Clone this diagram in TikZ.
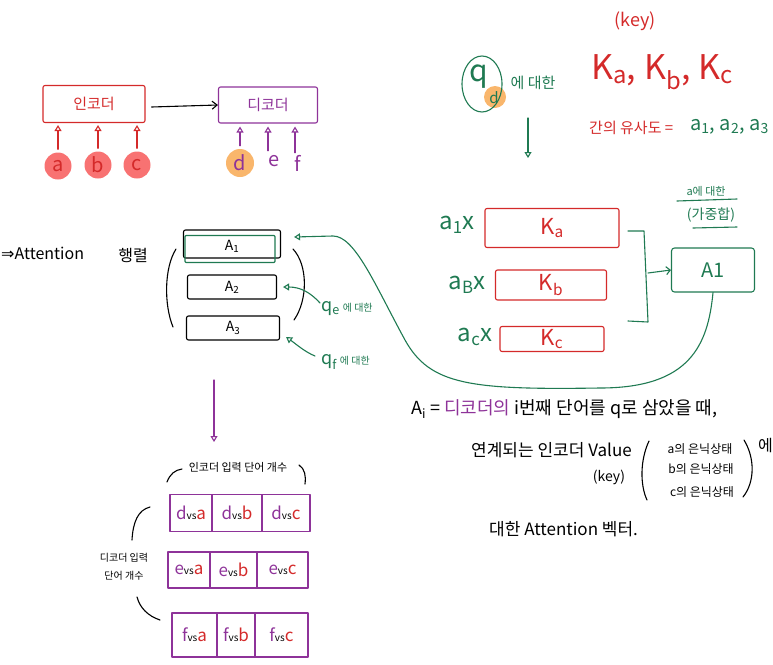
\documentclass[tikz,border=0pt]{standalone}
\usepackage{fontspec}
\setmainfont{Noto Sans CJK KR}
\newfontfamily\dejavu{DejaVu Sans}
\usetikzlibrary{arrows.meta,shapes.geometric}
\definecolor{hred}{HTML}{D42A2A}
\definecolor{hpurple}{HTML}{8E3399}
\definecolor{hgreen}{HTML}{1F7A52}
\definecolor{horange}{HTML}{F9B66C}
\definecolor{hredfill}{HTML}{F87272}
\newcommand{\fs}[1]{\fontsize{#1}{#1}\selectfont}
\begin{document}
\begin{tikzpicture}[x=1pt,y=-1pt,
  hand/.style={line width=1.1pt,line cap=round,line join=round},
  opentip/.style={-{Triangle[open,length=6pt,width=7pt]}},
  rbox/.style={hand,draw=hred,rounded corners=2pt,inner sep=0pt},
  pbox/.style={hand,draw=hpurple,rounded corners=2pt,inner sep=0pt},
  gbox/.style={hand,draw=hgreen,rounded corners=3pt,inner sep=0pt},
  kbox/.style={hand,draw=black,rounded corners=2pt,inner sep=0pt},
  rarr/.style={hand,draw=hred,opentip},
  parr/.style={hand,draw=hpurple,opentip},
  garr/.style={hand,draw=hgreen,opentip},
  cell/.style={hand,draw=hpurple,inner sep=0pt},
  lbl/.style={inner sep=1pt}]
\path[use as bounding box] (0,0) rectangle (773,664);

% ---------- encoder / decoder ----------
\node[rbox,text=hred,minimum width=102pt,minimum height=37pt] (enc) at (94,104) {\fs{15}인코더};
\node[pbox,text=hpurple,minimum width=99pt,minimum height=36pt] (dec) at (268,105) {\fs{15}디코더};
\draw[hand,-{Straight Barb[length=5pt,width=8pt]}] ([xshift=6pt,yshift=-3pt]enc.east) -- (dec.west);

\node[circle,fill=hredfill,text=hred,minimum size=27pt,inner sep=0pt] (ca) at (58,166) {\fs{20}a};
\node[circle,fill=hredfill,text=hred,minimum size=27pt,inner sep=0pt] (cb) at (98,165) {\fs{20}b};
\node[circle,fill=hredfill,text=hred,minimum size=27pt,inner sep=0pt] (cc) at (137,165) {\fs{20}c};
\foreach \n in {ca,cb,cc}{\draw[rarr,shorten <=3pt,shorten >=2pt] (\n.north) -- (\n.north |- enc.south);}

\node[circle,fill=horange,text=hpurple,minimum size=28pt,inner sep=0pt] (cd) at (240,163) {\fs{20}d};
\node[text=hpurple,inner sep=0pt,minimum size=20pt] (ce) at (274,161) {\fs{20}e};
\node[text=hpurple,inner sep=0pt,minimum size=20pt] (cf) at (298,163) {\fs{20}f};
\draw[parr,shorten <=3pt,shorten >=3pt] (cd.north) -- (cd.north |- dec.south);
\draw[parr,shorten <=0pt,shorten >=3pt] ([xshift=-6pt]ce.north) -- ([xshift=-6pt]ce.north |- dec.south);
\draw[parr,shorten <=0pt,shorten >=3pt] ([xshift=-3pt]cf.north) -- ([xshift=-3pt]cf.north |- dec.south);

% ---------- attention matrix ----------
\node[lbl,anchor=west] (att) at (0,253) {\fs{16}{\dejavu ⇒}Attention};
\node[lbl] (hr) at (133,255) {\fs{16}행렬};
\node[kbox,minimum width=97pt,minimum height=28pt] (A1) at (232,244) {};
\node[gbox,rounded corners=1pt,minimum width=90pt,minimum height=27pt] (A1g) at (230,249) {};
\node at (232,246) {\fs{14}A\textsubscript{1}};
\node[kbox,minimum width=89pt,minimum height=24pt] (A2) at (232,287) {\fs{14}A\textsubscript{2}};
\node[kbox,minimum width=93pt,minimum height=24pt] (A3) at (233,328) {\fs{14}A\textsubscript{3}};
\draw[hand] (176,249) .. controls (164,268) and (164,305) .. (173,327);
\draw[hand] (293,249) .. controls (308,265) and (308,300) .. (294,320);

\node[lbl,text=hgreen,anchor=west] (qe) at (320,309) {\fs{18}q\textsubscript{e}\,\fs{10}에 대한};
\node[lbl,text=hgreen,anchor=west] (qf) at (320,362) {\fs{18}q\textsubscript{f}\,\fs{10}에 대한};
\draw[garr] ([yshift=6pt]qe.west) .. controls (310,292) and (300,287) .. ([xshift=6pt]A2.east);
\draw[garr] ([xshift=-5pt,yshift=6pt]qf.west) .. controls (305,352) and (296,344) .. ([xshift=6pt,yshift=-9pt]A3.east);

% ---------- right top ----------
\node[lbl,text=hred] (key) at (635,21) {\fs{18}(key)};
\fill[horange] (495,97) circle (11);
\node[ellipse,draw=hgreen,hand,minimum width=40pt,minimum height=56pt] (qd) at (482,84) {};
\node[text=hgreen,inner sep=0pt] (qq) at (479,77) {\fs{30}q};
\node[text=hgreen,inner sep=0pt] (qsub) at (494,98) {\fs{15}d};
\node[lbl,text=hgreen] (qdl) at (533,83) {\fs{15}에 대한};
\node[lbl,text=hred] (Ks) at (662,72) {\fs{34}K\textsubscript{a}, K\textsubscript{b}, K\textsubscript{c}};
\node[lbl,text=hred,anchor=west] (sim) at (588,128) {\fs{15}간의 유사도 =};
\node[lbl,text=hgreen,anchor=west] (aa) at (689,127) {\fs{20}a\textsubscript{1}, a\textsubscript{2}, a\textsubscript{3}};
\coordinate (dn1) at (528,118);
\coordinate (dn2) at (528,158);
\draw[garr] (dn1) -- (dn2);

% ---------- weighted keys ----------
\node[rbox,text=hred,minimum width=134pt,minimum height=39pt] (Ka) at (552,228) {\fs{22}K\textsubscript{a}};
\node[rbox,text=hred,minimum width=111pt,minimum height=30pt] (Kb) at (551,285) {\fs{22}K\textsubscript{b}};
\node[rbox,text=hred,minimum width=104pt,minimum height=25pt] (Kc) at (552,339) {\fs{22}K\textsubscript{c}};
\node[lbl,text=hgreen] (w1) at (457,225) {\fs{24}a\textsubscript{1}x};
\node[lbl,text=hgreen] (w2) at (467,285) {\fs{24}a\textsubscript{B}x};
\node[lbl,text=hgreen] (w3) at (475,337) {\fs{24}a\textsubscript{c}x};
\draw[hand,hgreen] (628,231) -- (644,231) -- (648,322) -- (628,321);
\coordinate (brk) at (648,273);
\node[gbox,text=hgreen,minimum width=83pt,minimum height=44pt] (A1r) at (713,270) {\fs{20}A1};
\draw[hand,hgreen,-{Straight Barb[length=4pt,width=8pt]}] (brk) -- (A1r.west);
\node[lbl,text=hgreen] (wa) at (706,191) {\fs{11}a에 대한};
\draw[hand,hgreen] (677,201) -- (737,199);
\node[lbl,text=hgreen] (wsum) at (711,215) {\fs{14}(가중합)};
\draw[hand,hgreen] (693,228) -- (737,227);

\draw[garr] (A1r.south) .. controls (708,345) and (690,388) .. (600,388)
  .. controls (470,390) and (430,385) .. (405,340)
  .. controls (375,285) and (355,236) .. (333,236) -- ([xshift=13pt,yshift=7pt]A1.east);

% ---------- explanation ----------
\node[lbl,anchor=west] (l1) at (410,409) {\fs{18}A\textsubscript{i} = \textcolor{hpurple}{디코더의} i번째 단어를 q로 삼았을 때,};
\node[lbl,anchor=west] (l2) at (470,450) {\fs{17}연계되는 인코더 Value};
\node[lbl] (l2k) at (609,477) {\fs{14}(key)};
\draw[hand] (649,441) .. controls (640,460) and (640,485) .. (647,500);
\node[lbl] (h1) at (700,449) {\fs{12}a의 은닉상태};
\node[lbl] (h2) at (701,469) {\fs{12}b의 은닉상태};
\node[lbl] (h3) at (702,492) {\fs{12}c의 은닉상태};
\draw[hand] (744,440) .. controls (755,458) and (755,482) .. (743,497);
\node[lbl,anchor=west] (l2e) at (757,446) {\fs{16}에};
\node[lbl,anchor=west] (l3) at (488,529) {\fs{17}대한 Attention 벡터.};

% ---------- score grid ----------
\coordinate (pa1) at (214,380);
\coordinate (pa2) at (214,442);
\draw[parr] (pa1) -- (pa2);
\node[lbl] (encn) at (238,467) {\fs{11}인코더 입력 단어 개수};
\draw[hand] (167,482) .. controls (170,474) and (175,470) .. (182,469);
\draw[hand] (299,465) .. controls (305,469) and (306,476) .. (305,484);

\newcommand{\vs}[2]{\textcolor{hpurple}{\fs{17}#1}{\fs{10}vs}\textcolor{hred}{\fs{17}#2}}
\node[cell,minimum width=42pt,minimum height=37pt] (r1a) at (191,513) {\vs{d}{a}};
\node[cell,minimum width=50pt,minimum height=37pt] (r1b) at (237,513) {\vs{d}{b}};
\node[cell,minimum width=48pt,minimum height=37pt] (r1c) at (286,513) {\vs{d}{c}};
\node[cell,minimum width=42pt,minimum height=36pt] (r2a) at (189,570) {\vs{e}{a}};
\node[cell,minimum width=47pt,minimum height=36pt] (r2b) at (233.5,570) {\vs{e}{b}};
\node[cell,minimum width=51pt,minimum height=36pt] (r2c) at (282.5,570) {\vs{e}{c}};
\node[cell,minimum width=45pt,minimum height=44pt] (r3a) at (194.5,635) {\vs{f}{a}};
\node[cell,minimum width=38pt,minimum height=44pt] (r3b) at (236,635) {\vs{f}{b}};
\node[cell,minimum width=53pt,minimum height=44pt] (r3c) at (281.5,635) {\vs{f}{c}};

\node[lbl] (decn1) at (124,558) {\fs{10}디코더 입력};
\node[lbl] (decn2) at (124,576) {\fs{10}단어 개수};
\draw[hand] (150,507) .. controls (138,510) and (133,522) .. (132,540);
\draw[hand] (137,597) .. controls (140,608) and (148,616) .. (160,620);
\end{tikzpicture}
\end{document}
